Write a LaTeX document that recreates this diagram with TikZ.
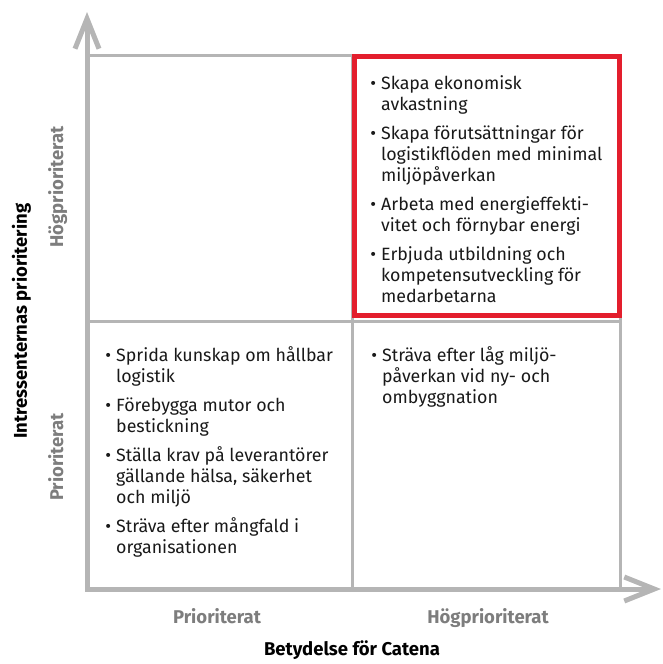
\documentclass[tikz,border=0pt]{standalone}
\usepackage{fontspec}
\setmainfont{Fira Sans}
\usetikzlibrary{arrows.meta}

\definecolor{axisgray}{RGB}{181,181,181}
\definecolor{labelgray}{RGB}{125,125,125}
\definecolor{catenared}{RGB}{227,30,45}

\tikzset{
  gridline/.style={draw=axisgray, line width=3pt},
  axisline/.style={draw=axisgray, line width=5pt},
  focusbox/.style={draw=catenared, line width=5pt},
  itemtext/.style={anchor=base west, align=left, inner sep=0pt,
    font=\fontsize{17.8}{21}\selectfont, text=black!90},
  levellabel/.style={anchor=base, inner sep=0pt,
    font=\bfseries\fontsize{18.5}{20}\selectfont, text=labelgray},
  axistitle/.style={anchor=base, inner sep=0pt,
    font=\bfseries\fontsize{18.5}{20}\selectfont, text=black},
}
\newcommand{\itembullet}{\llap{\textbullet\hspace{5pt}}}

\begin{document}
\begin{tikzpicture}[x=1pt, y=-1pt]

\useasboundingbox (0,0) rectangle (662,664);

\coordinate (O) at (87,589);
\coordinate (TL) at (87,55);
\coordinate (TR) at (620,55);
\coordinate (BR) at (620,589);
\coordinate (MT) at (352,55);
\coordinate (MB) at (352,589);
\coordinate (ML) at (87,321);
\coordinate (MR) at (620,321);
\coordinate (Ytip) at (87,12);
\coordinate (Xtip) at (661,589);

% quadrants
\draw[gridline] (TL) -- (TR) -- (BR);
\draw[gridline] (MT) -- (MB);
\draw[gridline] (ML) -- (MR);

% axes
\draw[axisline, {Straight Barb[length=30pt,width=24pt]}-{Straight Barb[length=30pt,width=24pt]}]
  (Ytip) -- (O) -- (Xtip);

% most important quadrant
\draw[focusbox] (354.5,56.5) rectangle (619.5,315.5);

% lists, placed by the baseline of their last line
\node[itemtext] (highhigh) at (381,302) {\itembullet Skapa ekonomisk\\avkastning\\[8pt]%
\itembullet Skapa förutsättningar för\\logistikflöden med minimal\\miljöpåverkan\\[8pt]%
\itembullet Arbeta med energieffekti-\\vitet och förnybar energi\\[8pt]%
\itembullet Erbjuda utbildning och\\kompetensutveckling för\\medarbetarna};

\node[itemtext] (lowlow) at (116,553) {\itembullet Sprida kunskap om hållbar\\logistik\\[8pt]%
\itembullet Förebygga mutor och\\bestickning\\[8pt]%
\itembullet Ställa krav på leverantörer\\gällande hälsa, säkerhet\\och miljö\\[8pt]%
\itembullet Sträva efter mångfald i\\organisationen};

\node[itemtext] (lowhigh) at (382,403) {\itembullet Sträva efter låg miljö-\\påverkan vid ny- och\\ombyggnation};

% axis labels
\node[levellabel] (xlow) at (217,623) {Prioriterat};
\node[levellabel] (xhigh) at (488,623) {Högprioriterat};
\node[axistitle] (xtitle) at (352,655) {Betydelse för Catena};

\node[levellabel, rotate=90] (yhigh) at (63,187) {Högprioriterat};
\node[levellabel, rotate=90] (ylow) at (63,457) {Prioriterat};
\node[axistitle, rotate=90] (ytitle) at (27,321) {Intressenternas prioritering};

\end{tikzpicture}
\end{document}
